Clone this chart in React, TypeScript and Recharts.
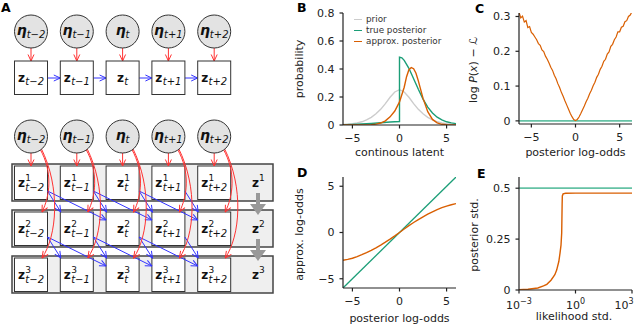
import React from 'react';
import { LineChart, Line, XAxis, YAxis, Legend } from 'recharts';

const FONT = 'DejaVu Sans, sans-serif';
const INK = '#222222';
const GREEN = '#1b9e77';
const GREEN_LIGHT = '#66c2a5';
const ORANGE = '#d95f02';
const GREY = '#cccccc';
const RED = '#ff3333';
const BLUE = '#3333ff';

// B: densities over the continuous latent
const seriesNames = ['prior', 'true posterior', 'approx. posterior'];
const latentX = [-6, -5.5, -5, -4.5, -4, -3.5, -3, -2.5, -2, -1.5, -1, -0.5, 0, 0.5, 1, 1.5, 2, 2.5, 3, 3.5, 4, 4.5, 5, 5.5, 6];
const priorY = [0.004, 0.006, 0.009, 0.015, 0.023, 0.036, 0.055, 0.08, 0.112, 0.153, 0.198, 0.236, 0.252, 0.236, 0.198, 0.153, 0.112, 0.08, 0.055, 0.036, 0.023, 0.015, 0.009, 0.006, 0.004];
const trueX = [-6, -5, -4, -3, -2, -1, -0.5, 0, 0, 0.25, 0.5, 1, 1.5, 2, 2.5, 3, 3.5, 4, 4.5, 5, 5.5, 6];
const trueY = [0.002, 0.004, 0.007, 0.011, 0.016, 0.021, 0.023, 0.025, 0.485, 0.48, 0.462, 0.405, 0.33, 0.255, 0.185, 0.128, 0.086, 0.056, 0.036, 0.023, 0.015, 0.01];
const approxX = [-6, -4, -3, -2.5, -2, -1.5, -1, -0.5, 0, 0.5, 0.75, 1, 1.25, 1.5, 1.75, 2, 2.5, 3, 3.5, 4, 4.5, 5, 6];
const approxY = [0, 0.001, 0.003, 0.006, 0.014, 0.03, 0.058, 0.1, 0.165, 0.27, 0.345, 0.395, 0.41, 0.402, 0.37, 0.315, 0.19, 0.095, 0.04, 0.015, 0.005, 0.002, 0];

// C: bound gap vs posterior log-odds
const gapX = [
  -6.4, -6.2, -6, -5.8, -5.6, -5.4, -5.2, -5, -4.8, -4.6, -4.4, -4.2, -4, -3.8, -3.6, -3.4, -3.2, -3, -2.8, -2.6, -2.4, -2.2,
  -2, -1.8, -1.6, -1.4, -1.2, -1, -0.8, -0.6, -0.4, -0.2, 0, 0.2, 0.4, 0.6, 0.8, 1, 1.2, 1.4, 1.6, 1.8, 2, 2.2, 2.4, 2.6,
  2.8, 3, 3.2, 3.4, 3.6, 3.8, 4, 4.2, 4.4, 4.6, 4.8, 5, 5.2, 5.4, 5.6, 5.8, 6, 6.2, 6.4,
];
const gapY = [
  0.312, 0.296, 0.301, 0.284, 0.288, 0.268, 0.271, 0.254, 0.249, 0.241, 0.233, 0.222, 0.217, 0.204, 0.199, 0.186, 0.177,
  0.166, 0.154, 0.145, 0.131, 0.121, 0.107, 0.096, 0.082, 0.071, 0.058, 0.046, 0.034, 0.022, 0.012, 0.004, 0.001, 0.004,
  0.011, 0.021, 0.032, 0.043, 0.055, 0.065, 0.078, 0.088, 0.101, 0.111, 0.125, 0.134, 0.148, 0.157, 0.171, 0.177, 0.192,
  0.198, 0.214, 0.22, 0.233, 0.241, 0.256, 0.256, 0.269, 0.272, 0.285, 0.288, 0.3, 0.304, 0.314,
];
const gapZeroX = [-6.4, 6.4];
const gapZeroY = [0, 0];

// D: approximate vs true log-odds
const oddsX = [-6, -5.5, -5, -4.5, -4, -3.5, -3, -2.5, -2, -1.5, -1, -0.5, 0, 0.5, 1, 1.5, 2, 2.5, 3, 3.5, 4, 4.5, 5, 5.5, 6];
const oddsApprox = [-3.0, -2.9, -2.78, -2.6, -2.4, -2.17, -1.92, -1.65, -1.36, -1.05, -0.72, -0.37, 0, 0.38, 0.74, 1.08, 1.4, 1.7, 1.98, 2.24, 2.48, 2.68, 2.86, 3.0, 3.12];
const identityX = [-6, 6];
const identityY = [-6, 6];

// E: posterior std vs likelihood std
const stdX = [0.001, 0.003, 0.01, 0.02, 0.03, 0.05, 0.08, 0.1, 0.13, 0.15, 0.17, 0.185, 0.195, 0.2, 0.22, 0.3, 1, 10, 100, 1000];
const stdApprox = [0.001, 0.004, 0.01, 0.02, 0.028, 0.048, 0.075, 0.098, 0.14, 0.18, 0.22, 0.28, 0.42, 0.462, 0.472, 0.475, 0.476, 0.476, 0.476, 0.476];
const stdTrueX = [0.001, 1000];
const stdTrueY = [0.5, 0.5];

// A: graphical model labels
const steps = ['t−2', 't−1', 't', 't+1', 't+2'];
const layers = ['1', '2', '3'];

const pts = (xs: number[], ys: number[]) => xs.map((x, i) => ({ x, y: ys[i] }));
const fmt = (v: number) => (v < 0 ? `−${-v}` : `${v}`);

const tickStyle = { fontSize: 11, fill: INK, fontFamily: FONT };
const axisLine = { stroke: INK, strokeWidth: 1.2 };

const renderLegend = ({ payload }: any) => {
  const items = [...(payload || [])].sort(
    (a: any, b: any) => seriesNames.indexOf(a.value) - seriesNames.indexOf(b.value)
  );
  return (
    <div style={{ fontFamily: FONT, fontSize: 8.8, color: '#333', lineHeight: '11px' }}>
      {items.map((p: any) => (
        <div key={p.value} style={{ display: 'flex', alignItems: 'center', whiteSpace: 'nowrap' }}>
          <span style={{ display: 'inline-block', width: 8, height: 0, borderTop: `1.5px solid ${p.color}`, marginRight: 4 }} />
          {p.value}
        </div>
      ))}
    </div>
  );
};

const LogTick = ({ x, y, payload }: any) => {
  const e = Math.round(Math.log10(payload.value));
  return (
    <text x={x} y={y + 9} textAnchor="middle" fontFamily={FONT} fontSize={11} fill={INK}>
      <tspan>10</tspan>
      <tspan dy={-5} fontSize={8}>{e < 0 ? `−${-e}` : `${e}`}</tspan>
    </text>
  );
};

const colX = (i: number) => 31 + 45.8 * i;
const subW = (s: string) =>
  s.split('').reduce((w, c) => w + (c === 't' ? 0.39 : c === '−' || c === '+' ? 0.84 : 0.64), 0) * 10;

function Eta({ cx, cy, sub }: { cx: number; cy: number; sub: string }) {
  return (
    <g>
      <circle cx={cx} cy={cy} r={16.5} fill="#e3e3e3" stroke="#333" strokeWidth={1} />
      <text x={cx} y={cy + 3} textAnchor="middle" fontFamily={FONT} fill="#111">
        <tspan fontSize={14} fontWeight="bold" fontStyle="italic">η</tspan>
        <tspan fontSize={10} fontStyle="italic" dy={3}>{sub}</tspan>
      </text>
    </g>
  );
}

function ZBox({ cx, top, sub, sup }: { cx: number; top: number; sub: string; sup?: string }) {
  const w = 7.4 + subW(sub);
  const x0 = cx - w / 2;
  const base = top + 21;
  return (
    <g>
      <rect x={cx - 16.5} y={top} width={33} height={33.5} fill="#fff" stroke="#333" strokeWidth={1} />
      <text x={x0} y={base} fontFamily={FONT} fontSize={12} fontWeight="bold" fill="#111">z</text>
      {sup && (
        <text x={x0 + 7.4} y={base - 6} fontFamily={FONT} fontSize={9} fill="#111">{sup}</text>
      )}
      <text x={x0 + 7.4} y={base + (sup ? 4 : 3)} fontFamily={FONT} fontSize={10} fontStyle="italic" fill="#111">{sub}</text>
    </g>
  );
}

function Diagram() {
  const rowTops = [164, 210, 256];
  return (
    <g>
      <defs>
        <marker id="hr" viewBox="0 0 8 8" refX="7.5" refY="4" markerWidth="8" markerHeight="8" markerUnits="userSpaceOnUse" orient="auto">
          <path d="M1,1 L7.5,4 L1,7" fill="none" stroke={RED} strokeWidth={1} />
        </marker>
        <marker id="hb" viewBox="0 0 8 8" refX="7.5" refY="4" markerWidth="8" markerHeight="8" markerUnits="userSpaceOnUse" orient="auto">
          <path d="M1,1 L7.5,4 L1,7" fill="none" stroke={BLUE} strokeWidth={1} />
        </marker>
      </defs>
      {/* upper chain */}
      {steps.map((s, i) => (
        <g key={`u${i}`}>
          <line x1={colX(i)} y1={48} x2={colX(i)} y2={61} stroke={RED} strokeWidth={1} markerEnd="url(#hr)" />
          {i < steps.length - 1 && (
            <line x1={colX(i) + 16.5} y1={78} x2={colX(i + 1) - 16.5} y2={78} stroke={BLUE} strokeWidth={1} markerEnd="url(#hb)" />
          )}
          <Eta cx={colX(i)} cy={31.5} sub={s} />
          <ZBox cx={colX(i)} top={61} sub={s} />
        </g>
      ))}
      {/* layered chain */}
      {rowTops.map((t, r) => (
        <rect key={`row${r}`} x={12} y={t} width={261} height={37} fill="#efefef" stroke="#444" strokeWidth={1.5} />
      ))}
      {steps.map((s, i) => (
        <g key={`b${i}`}>
          {layers.map((l, r) => (
            <ZBox key={l} cx={colX(i)} top={rowTops[r] + 2} sub={s} sup={l} />
          ))}
        </g>
      ))}
      {steps.map((s, i) => (
        <g key={`bl${i}`}>
          {[0, 1].map((r) =>
            [1, 2]
              .filter((k) => i + k < steps.length)
              .map((k) => (
                <line
                  key={`${r}-${k}`}
                  x1={colX(i) + 16.5}
                  y1={rowTops[r] + 27}
                  x2={colX(i + k) - (k === 1 ? 16 : 16.5)}
                  y2={rowTops[r + 1] + (k === 1 ? 2 : 10)}
                  stroke={BLUE}
                  strokeWidth={1}
                  markerEnd="url(#hb)"
                />
              ))
          )}
        </g>
      ))}
      {steps.map((s, i) => (
        <g key={`c${i}`}>
          <line x1={colX(i)} y1={153} x2={colX(i)} y2={166} stroke={RED} strokeWidth={1} markerEnd="url(#hr)" />
          <path
            d={`M${colX(i) + 9},149 C${colX(i) + 22},172 ${colX(i) + 19},196 ${colX(i) + 11},212`}
            fill="none" stroke={RED} strokeWidth={1} markerEnd="url(#hr)"
          />
          <path
            d={`M${colX(i) + 10},148 C${colX(i) + 30},188 ${colX(i) + 26},236 ${colX(i) + 11},258`}
            fill="none" stroke={RED} strokeWidth={1} markerEnd="url(#hr)"
          />
          <Eta cx={colX(i)} cy={136.5} sub={s} />
        </g>
      ))}
      {layers.map((l, r) => (
        <text key={`zl${l}`} x={252} y={rowTops[r] + 23} fontFamily={FONT} fill="#111">
          <tspan fontSize={12} fontWeight="bold">z</tspan>
          <tspan fontSize={9} dy={-6}>{l}</tspan>
        </text>
      ))}
      {[0, 1].map((r) => (
        <g key={`g${r}`}>
          <line x1={258} y1={rowTops[r] + 29} x2={258} y2={rowTops[r] + 41} stroke="#999" strokeWidth={4} />
          <polygon points={`250,${rowTops[r] + 40} 266,${rowTops[r] + 40} 258,${rowTops[r] + 51}`} fill="#999" />
        </g>
      ))}
    </g>
  );
}

function Overlay() {
  const t = { fontFamily: FONT, fontSize: 11, fill: INK };
  const panel = { fontFamily: FONT, fontSize: 12.5, fontWeight: 'bold' as const, fill: '#000' };
  return (
    <svg width={640} height={326} style={{ position: 'absolute', left: 0, top: 0, pointerEvents: 'none' }}>
      <Diagram />
      <text x={1} y={12} {...panel}>A</text>
      <text x={297} y={12} {...panel}>B</text>
      <text x={475} y={13} {...panel}>C</text>
      <text x={297} y={177} {...panel}>D</text>
      <text x={477} y={178} {...panel}>E</text>
      <text transform="translate(303,69) rotate(-90)" textAnchor="middle" {...t}>probability</text>
      <text transform="translate(476.5,70) rotate(-90)" textAnchor="middle" {...t}>
        log <tspan fontStyle="italic">P</tspan>(<tspan fontStyle="italic">x</tspan>) − <tspan fontStyle="italic">ℒ</tspan>
      </text>
      <text transform="translate(303,234.5) rotate(-90)" textAnchor="middle" {...t}>approx. log-odds</text>
      <text transform="translate(478,235) rotate(-90)" textAnchor="middle" {...t}>posterior std.</text>
      <text x={399.5} y={156} textAnchor="middle" {...t}>continous latent</text>
      <text x={575.5} y={156} textAnchor="middle" {...t}>posterior log-odds</text>
      <text x={399.5} y={322} textAnchor="middle" {...t}>posterior log-odds</text>
      <text x={574} y={320} textAnchor="middle" {...t}>likelihood std.</text>
    </svg>
  );
}

const box = (left: number, top: number): React.CSSProperties => ({ position: 'absolute', left, top });

export default function App() {
  return (
    <div style={{ position: 'absolute', left: 0, top: 0, width: 640, height: 326, background: '#fff', overflow: 'hidden' }}>
      <div style={box(290, 0)}>
        <LineChart width={175} height={165} margin={{ top: 13, right: 9, left: 0, bottom: 0 }}>
          <XAxis dataKey="x" type="number" domain={[-6, 6]} ticks={[-5, 0, 5]} allowDataOverflow tickFormatter={fmt}
            height={40} tick={tickStyle} axisLine={axisLine} tickLine={axisLine} tickSize={3.5} tickMargin={6} />
          <YAxis type="number" domain={[0, 0.8]} ticks={[0, 0.2, 0.4, 0.6, 0.8]} allowDataOverflow width={53}
            tick={tickStyle} axisLine={axisLine} tickLine={axisLine} tickSize={3.5} tickMargin={5} />
          <Legend layout="vertical" align="center" verticalAlign="middle" content={renderLegend}
            wrapperStyle={{ top: 13.5, left: 64 }} />
          <Line data={pts(latentX, priorY)} dataKey="y" name={seriesNames[0]} stroke={GREY} strokeWidth={1.4} dot={false} activeDot={false} isAnimationActive={false} />
          <Line data={pts(trueX, trueY)} dataKey="y" name={seriesNames[1]} stroke={GREEN} strokeWidth={1.4} dot={false} activeDot={false} isAnimationActive={false} />
          <Line data={pts(approxX, approxY)} dataKey="y" name={seriesNames[2]} stroke={ORANGE} strokeWidth={1.4} dot={false} activeDot={false} isAnimationActive={false} />
        </LineChart>
      </div>
      <div style={box(466, 0)}>
        <LineChart width={174} height={165} margin={{ top: 13, right: 8, left: 0, bottom: 0 }}>
          <XAxis dataKey="x" type="number" domain={[-6.4, 6.4]} ticks={[-5, 0, 5]} allowDataOverflow tickFormatter={fmt}
            height={41} tick={tickStyle} axisLine={axisLine} tickLine={axisLine} tickSize={3.5} tickMargin={6} />
          <YAxis type="number" domain={[-0.009, 0.31]} ticks={[0, 0.1, 0.2, 0.3]} allowDataOverflow width={53}
            tick={tickStyle} axisLine={axisLine} tickLine={axisLine} tickSize={3.5} tickMargin={5} />
          <Line data={pts(gapZeroX, gapZeroY)} dataKey="y" stroke={GREEN_LIGHT} strokeWidth={1.6} dot={false} activeDot={false} isAnimationActive={false} />
          <Line data={pts(gapX, gapY)} dataKey="y" stroke={ORANGE} strokeWidth={1.2} dot={false} activeDot={false} isAnimationActive={false} />
        </LineChart>
      </div>
      <div style={box(290, 165)}>
        <LineChart width={175} height={161} margin={{ top: 12, right: 9, left: 0, bottom: 0 }}>
          <XAxis dataKey="x" type="number" domain={[-6, 6]} ticks={[-5, 0, 5]} allowDataOverflow tickFormatter={fmt}
            height={38} tick={tickStyle} axisLine={axisLine} tickLine={axisLine} tickSize={3.5} tickMargin={6} />
          <YAxis type="number" domain={[-6, 6]} ticks={[-5, 0, 5]} allowDataOverflow width={53} tickFormatter={fmt}
            tick={tickStyle} axisLine={axisLine} tickLine={axisLine} tickSize={3.5} tickMargin={5} />
          <Line data={pts(identityX, identityY)} dataKey="y" stroke={GREEN} strokeWidth={1.3} dot={false} activeDot={false} isAnimationActive={false} />
          <Line data={pts(oddsX, oddsApprox)} dataKey="y" stroke={ORANGE} strokeWidth={1.4} dot={false} activeDot={false} isAnimationActive={false} />
        </LineChart>
      </div>
      <div style={box(466, 165)}>
        <LineChart width={174} height={161} margin={{ top: 12, right: 8, left: 0, bottom: 0 }}>
          <XAxis dataKey="x" type="number" scale="log" domain={[0.001, 1000]} ticks={[0.001, 1, 1000]} allowDataOverflow
            height={36} tick={<LogTick />} axisLine={axisLine} tickLine={axisLine} tickSize={3.5} tickMargin={6} />
          <YAxis type="number" domain={[0, 0.555]} ticks={[0, 0.25, 0.5]} allowDataOverflow width={53}
            tick={tickStyle} axisLine={axisLine} tickLine={axisLine} tickSize={3.5} tickMargin={5} />
          <Line data={pts(stdTrueX, stdTrueY)} dataKey="y" stroke={GREEN_LIGHT} strokeWidth={1.8} dot={false} activeDot={false} isAnimationActive={false} />
          <Line data={pts(stdX, stdApprox)} dataKey="y" stroke={ORANGE} strokeWidth={1.4} dot={false} activeDot={false} isAnimationActive={false} />
        </LineChart>
      </div>
      <Overlay />
    </div>
  );
}
